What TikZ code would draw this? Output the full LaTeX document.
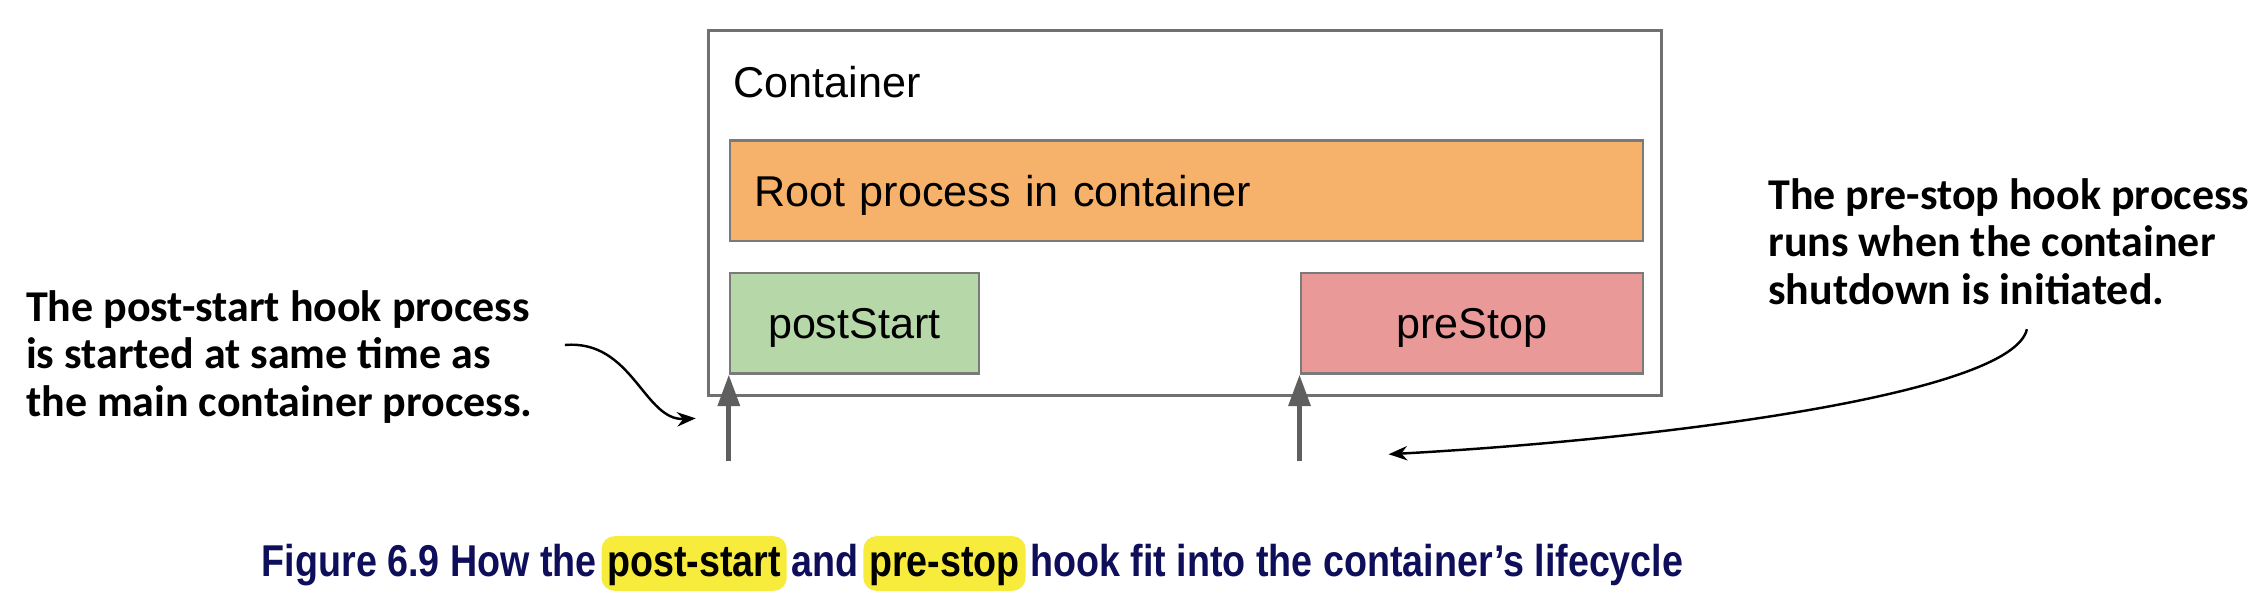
\documentclass[tikz,border=0pt]{standalone}
\usepackage{fontspec}
\setmainfont{Liberation Sans}
\newfontfamily\annfont{Carlito}
\newfontfamily\capfont[FakeStretch=0.845]{Liberation Sans}
\usetikzlibrary{arrows.meta}
\definecolor{containergray}{HTML}{707070}
\definecolor{bordergray}{HTML}{7A7A7A}
\definecolor{arrowgray}{HTML}{5F5F5F}
\definecolor{orangefill}{HTML}{F6B26B}
\definecolor{greenfill}{HTML}{B6D7A8}
\definecolor{redfill}{HTML}{EA9999}
\definecolor{capblue}{HTML}{0E0E5A}
\definecolor{hlyellow}{HTML}{F7EC3B}
\begin{document}
\begin{tikzpicture}[x=1pt,y=-1pt,
  boxfont/.style={font=\fontsize{30}{36}\selectfont},
  procbox/.style={draw=bordergray, line width=1.6pt, minimum height=70pt, inner sep=0pt, anchor=north west, boxfont, text depth=0pt},
  hookarrow/.style={draw=arrowgray, line width=3.5pt, -{Triangle[length=22pt,width=15pt]}},
  notearrow/.style={draw=black, line width=1.7pt, -{Stealth[length=13pt,width=10pt]}},
  note/.style={font=\annfont\bfseries\fontsize{30.6}{33}\selectfont, align=left, anchor=north west, inner sep=0pt},
  capword/.style={font=\capfont\bfseries\fontsize{31}{36}\selectfont, text=capblue, anchor=base west, inner xsep=0pt, inner ysep=4pt, text height=24pt, text depth=6pt},
  caphl/.style={capword, text=black, fill=hlyellow, rounded corners=9pt, inner xsep=4pt}]
\fill[white] (0,0) rectangle (1568,425);
\useasboundingbox (0,0) rectangle (1568,425);

% container
\node[draw=containergray, line width=2pt, minimum width=663pt, minimum height=254pt, anchor=north west, inner sep=0pt] (container) at (492,20) {};
\node[boxfont, anchor=base west, inner sep=0pt] (ctitle) at (510,68) {Container};

\node[procbox, fill=orangefill, minimum width=635pt, text width=601pt, inner xsep=17pt, align=left] (root) at (507,97) {Root process in container};
\node[procbox, fill=greenfill, minimum width=173pt] (post) at (507,189) {postStart};
\node[procbox, fill=redfill, minimum width=238pt] (pre) at (904,189) {preStop};

% hook arrows
\coordinate (postbase) at (507,321);
\coordinate (prebase) at (904,321);
\draw[hookarrow] (postbase) -- (post.south west);
\draw[hookarrow] (prebase) -- (pre.south west);

% annotations
\node[note] (lnote) at (18,202) {The post-start hook process\\is started at same time as\\the main container process.};
\node[note] (rnote) at (1230,124) {The pre-stop hook process\\runs when the container\\shutdown is initiated.};

\coordinate (la1) at (393,240);
\coordinate (la2) at (484,291);
\draw[notearrow] (la1) .. controls (440,236) and (448,293) .. (la2);
\coordinate (ra1) at (1410,229);
\coordinate (ra2) at (966,316);
\draw[notearrow] (ra1) .. controls (1400,275) and (1150,306) .. (ra2);

% caption
\node[capword] (c1) at (182,401) {Figure 6.9 How the};
\node[caphl] (c2) at ([xshift=3pt]c1.base east) {post-start};
\node[capword] (c3) at ([xshift=3pt]c2.base east) {and};
\node[caphl] (c4) at ([xshift=3pt]c3.base east) {pre-stop};
\node[capword] (c5) at ([xshift=3pt]c4.base east) {hook fit into the container’s lifecycle};
\end{tikzpicture}
\end{document}
